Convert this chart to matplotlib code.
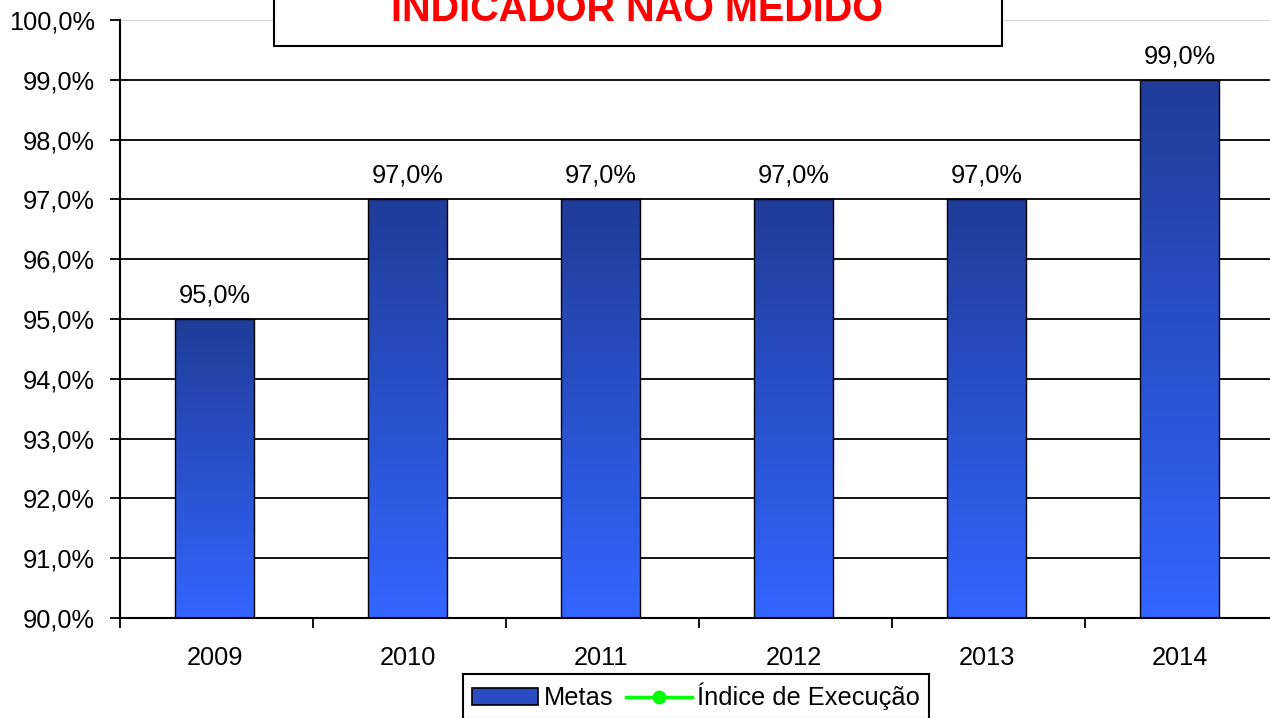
"""
Metas por ano (indicador não medido) - barras com gradiente.
"""

import numpy as np
import matplotlib.pyplot as plt
from matplotlib.colors import LinearSegmentedColormap
from matplotlib.patches import Rectangle
from matplotlib.lines import Line2D
from matplotlib.patches import Patch

plt.rcParams["font.family"] = ["Liberation Sans", "DejaVu Sans"]

anos = ["2009", "2010", "2011", "2012", "2013", "2014"]
metas = [95.0, 97.0, 97.0, 97.0, 97.0, 99.0]
execucao = [None, None, None, None, None, None]  # indicador não medido

FS = 18.3
cmap = LinearSegmentedColormap.from_list("metas", ["#3366ff", "#203c98"])

fig = plt.figure(figsize=(12.7, 7.18), dpi=100)
ax = fig.add_axes([120 / 1270, 1 - 618 / 718, 1158 / 1270, 598 / 718])

x = np.arange(len(anos))
bars = ax.bar(x - 0.01, metas, width=0.405, bottom=0, facecolor="none",
              edgecolor="black", linewidth=1.0, zorder=3)

# gradient fill, clipped to each bar
grad = np.linspace(0, 1, 256).reshape(-1, 1)
for b in bars:
    x0 = b.get_x()
    top = b.get_height()
    im = ax.imshow(grad, cmap=cmap, origin="lower", aspect="auto",
                   extent=[x0, x0 + b.get_width(), 90, top], zorder=2)
    im.set_clip_path(b)

ax.plot(x, np.array(execucao, dtype=float), color="#00ff00", marker="o",
        linewidth=2.5, markersize=9, zorder=4)

ax.set_xlim(-0.5, 5.5)
ax.set_ylim(90, 100)

# grid lines
for v in range(91, 100):
    ax.axhline(v, color="black", linewidth=1.3, zorder=1)
ax.axhline(100, color="#d0d0d0", linewidth=1.3, zorder=1)

ax.set_yticks(range(90, 101))
ax.set_yticklabels([f"{v:.1f}%".replace(".", ",") for v in range(90, 101)],
                   fontsize=FS)
ax.tick_params(axis="y", length=7, width=1.3, pad=11)

ax.set_xticks(np.arange(-0.5, 6, 1.0))
ax.set_xticklabels([])
ax.set_xticks(x - 0.01, minor=True)
ax.set_xticklabels(anos, minor=True, fontsize=FS)
ax.tick_params(axis="x", which="major", length=7, width=1.3)
ax.tick_params(axis="x", which="minor", length=0, pad=20)

for side in ["top", "right"]:
    ax.spines[side].set_visible(False)
for side in ["left", "bottom"]:
    ax.spines[side].set_linewidth(1.5)
    ax.spines[side].set_zorder(5)

for xi, v in zip(x - 0.01, metas):
    ax.annotate(f"{v:.1f}%".replace(".", ","), (xi, v), xytext=(0, 12),
                textcoords="offset points", ha="center", va="baseline",
                fontsize=FS)

# title box (cut at top of figure)
box = Rectangle((274 / 1270, 1 - 46 / 718), (1002 - 274) / 1270, 0.2,
                transform=fig.transFigure, facecolor="white",
                edgecolor="black", linewidth=1.5, zorder=5, clip_on=False)
fig.add_artist(box)
fig.text(637 / 1270, 1 - 21 / 718, "INDICADOR NÃO MEDIDO", color="#ff0000",
         fontsize=28.5, fontweight="bold", ha="center", va="baseline", zorder=6)

handles = [Patch(facecolor="#2a4cc0", edgecolor="black", linewidth=1.2),
           Line2D([], [], color="#00ff00", marker="o", linewidth=2.5,
                  markersize=9)]
leg = fig.legend(handles, ["Metas", "Índice de Execução"], loc="upper center",
                 bbox_to_anchor=(696 / 1270, 1 - 674 / 718), ncol=2,
                 fontsize=FS, frameon=True, fancybox=False, framealpha=1,
                 edgecolor="black", borderpad=0.35, columnspacing=0.5,
                 handletextpad=0.2, handlelength=2.6, borderaxespad=0)
leg.get_frame().set_linewidth(1.5)

fig.savefig("out.png", dpi=100)
